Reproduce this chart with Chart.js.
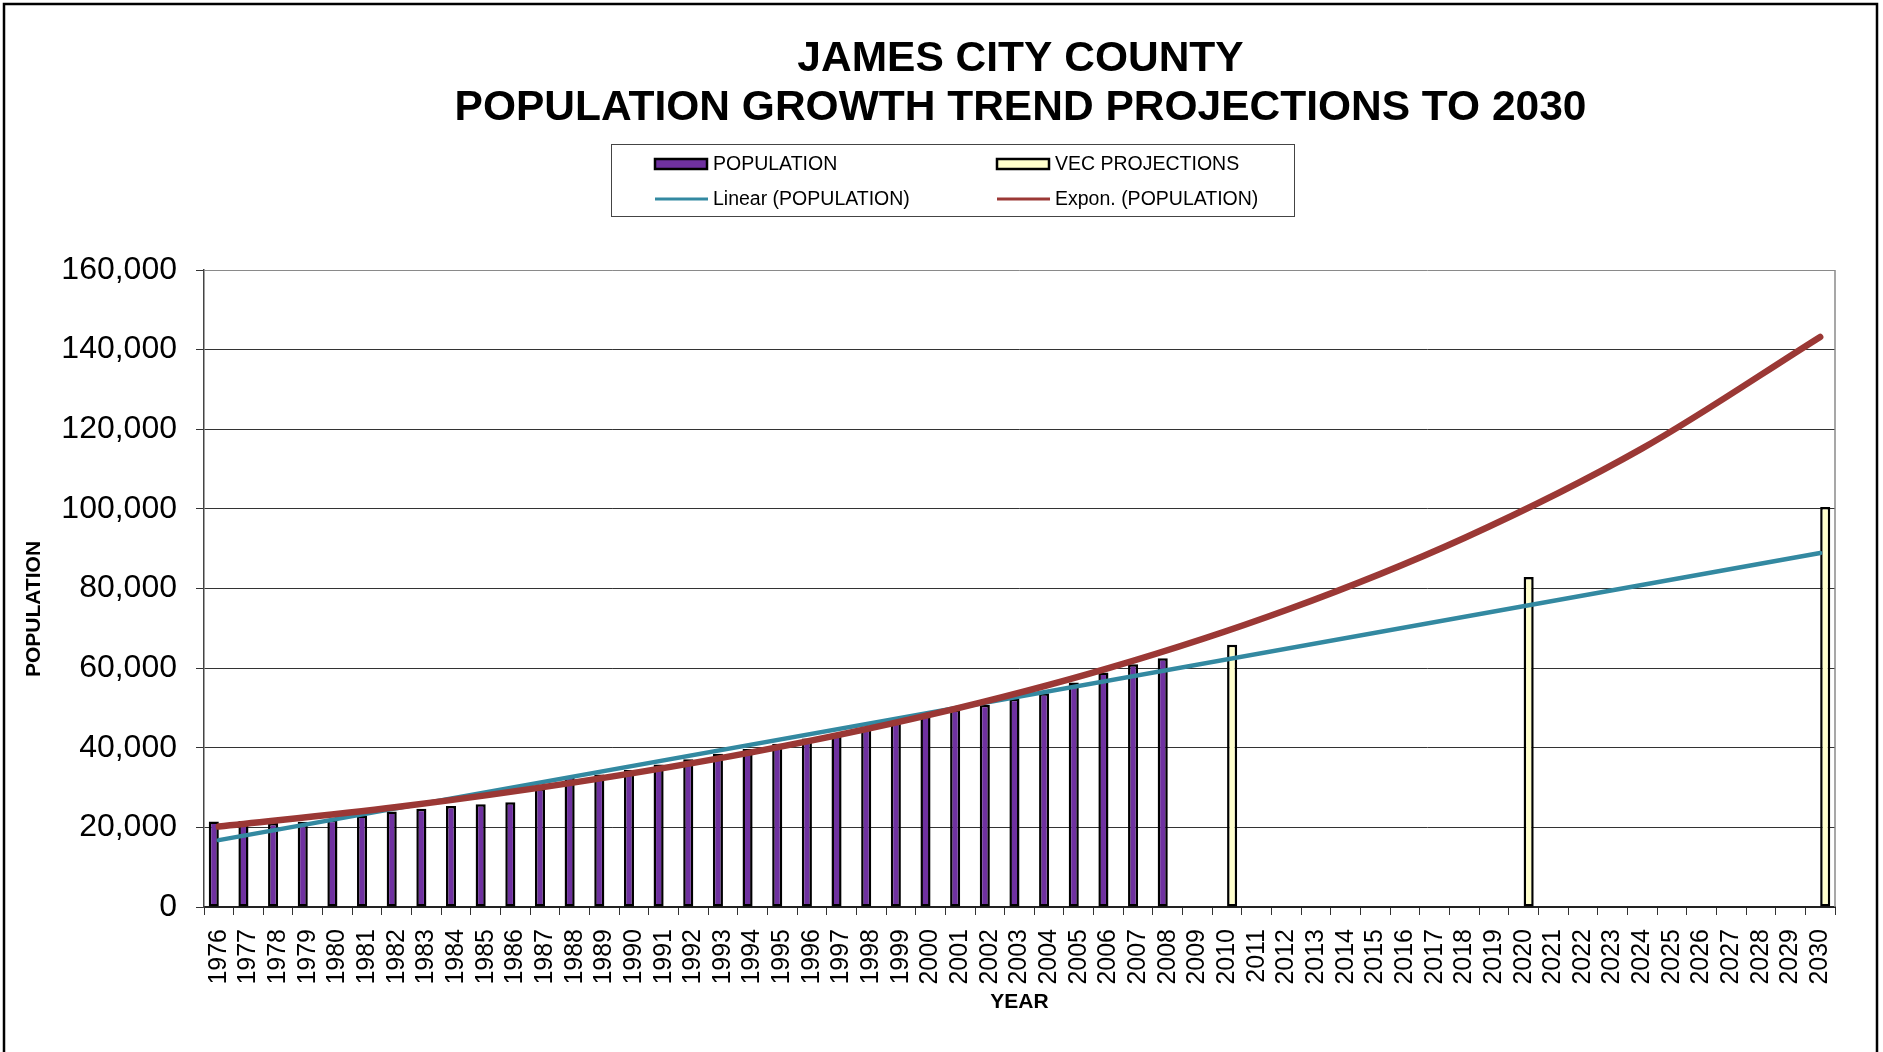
<!DOCTYPE html>
<html>
<head>
<meta charset="utf-8">
<title>James City County Population</title>
<script src="https://cdn.jsdelivr.net/npm/chart.js@4.4.1/dist/chart.umd.min.js"></script>
<style>
  html, body { margin: 0; padding: 0; background: #fff; }
  #wrap { width: 1883px; height: 1052px; }
</style>
</head>
<body>
<div id="wrap"><canvas id="popChart" width="1883" height="1052"></canvas></div>
<script>
// Categories (years on the x axis)
const years = [];
for (let y = 1976; y <= 2030; y++) years.push(String(y));

// Recorded population, 1976 - 2008
const popYears = ['1976','1977','1978','1979','1980','1981','1982','1983','1984','1985','1986',
  '1987','1988','1989','1990','1991','1992','1993','1994','1995','1996','1997',
  '1998','1999','2000','2001','2002','2003','2004','2005','2006','2007','2008'];
const popValues = [21500, 21600, 21100, 21400, 21900, 23000, 24000, 24700, 25400, 25800, 26300,
  29800, 32900, 33300, 34400, 35800, 37100, 38500, 39700, 41000, 42300, 43600,
  45100, 47000, 48300, 49600, 50800, 52300, 53700, 56400, 58900, 61000, 62500];

// VEC projections
const vecYears = ['2010', '2020', '2030'];
const vecValues = [65900, 82900, 100500];

// Trend lines
const linYears = ['1976', '2030'];
const linValues = [16800, 88900];
const expYears = ['1976', '1982', '1988', '1994', '2000', '2006', '2012', '2018', '2024', '2030'];
const expValues = [20200, 25100, 31300, 38900, 48300, 60000, 74600, 92700, 115200, 143200];

const yTicks = [0, 20000, 40000, 60000, 80000, 100000, 120000, 140000, 160000];

const PURPLE = '#6f31a0';
const YELLOW = '#ffffcc';
const TEAL = '#3389a1';
const RED = '#9b3835';
const FONT = '"Liberation Sans", Arial, sans-serif';

function fillYears(keys, vals) {
  return years.map(y => {
    const i = keys.indexOf(y);
    return i >= 0 ? vals[i] : null;
  });
}
function points(keys, vals) {
  return keys.map((k, i) => ({ x: k, y: vals[i] }));
}

// Title, legend, frame and y axis title
const decorations = {
  id: 'decorations',
  beforeDraw(chart) {
    const c = chart.ctx;
    c.save();
    c.fillStyle = '#fff';
    c.fillRect(0, 0, chart.width, chart.height);
    c.restore();
  },
  afterDraw(chart) {
    const c = chart.ctx;
    const area = chart.chartArea;
    const cx = (area.left + area.right) / 2 + 1;
    c.save();

    // outer frame (bottom edge is cut off)
    c.strokeStyle = '#000';
    c.lineWidth = 2.5;
    c.beginPath();
    c.moveTo(4, 1052);
    c.lineTo(4, 4);
    c.lineTo(1877, 4);
    c.lineTo(1877, 1052);
    c.stroke();

    // right edge of the plot
    c.strokeStyle = '#8a8a8a';
    c.lineWidth = 1.5;
    c.beginPath();
    c.moveTo(area.right, area.top);
    c.lineTo(area.right, area.bottom);
    c.stroke();

    // title
    c.fillStyle = '#000';
    c.textAlign = 'center';
    c.textBaseline = 'middle';
    c.font = 'bold 42.5px ' + FONT;
    c.fillText('JAMES CITY COUNTY', cx, 59);
    c.fillText('POPULATION GROWTH TREND PROJECTIONS TO 2030', cx, 108);

    // legend box
    c.strokeStyle = '#444';
    c.lineWidth = 1;
    c.strokeRect(611.5, 144.5, 683, 72);
    c.font = '19.5px ' + FONT;
    c.textAlign = 'left';
    const items = [
      { kind: 'box', fill: PURPLE, text: 'POPULATION', x: 655, y: 164 },
      { kind: 'box', fill: YELLOW, text: 'VEC PROJECTIONS', x: 997, y: 164 },
      { kind: 'line', color: TEAL, text: 'Linear (POPULATION)', x: 655, y: 199 },
      { kind: 'line', color: RED, text: 'Expon. (POPULATION)', x: 997, y: 199 }
    ];
    items.forEach(it => {
      if (it.kind === 'box') {
        c.fillStyle = it.fill;
        c.fillRect(it.x, it.y - 5, 52, 10);
        c.strokeStyle = '#000';
        c.lineWidth = 2.5;
        c.strokeRect(it.x, it.y - 5, 52, 10);
      } else {
        c.strokeStyle = it.color;
        c.lineWidth = 3;
        c.beginPath();
        c.moveTo(it.x, it.y);
        c.lineTo(it.x + 53, it.y);
        c.stroke();
      }
      c.fillStyle = '#000';
      c.fillText(it.text, it.x + 58, it.y + 1);
    });

    // y axis title
    c.translate(34, 609);
    c.rotate(-Math.PI / 2);
    c.textAlign = 'center';
    c.font = 'bold 21px ' + FONT;
    c.fillText('POPULATION', 0, 0);
    c.restore();
  }
};

const ctx = document.getElementById('popChart').getContext('2d');
const popChart = new Chart(ctx, {
  type: 'bar',
  data: {
    labels: years,
    datasets: [
      {
        type: 'line',
        label: 'Expon. (POPULATION)',
        data: points(expYears, expValues),
        borderColor: RED,
        borderWidth: 6.5,
        borderCapStyle: 'round',
        pointRadius: 0,
        cubicInterpolationMode: 'monotone',
        fill: false,
        order: 0
      },
      {
        type: 'line',
        label: 'Linear (POPULATION)',
        data: points(linYears, linValues),
        borderColor: TEAL,
        borderWidth: 4.5,
        borderCapStyle: 'round',
        pointRadius: 0,
        fill: false,
        order: 1
      },
      {
        label: 'POPULATION',
        data: fillYears(popYears, popValues),
        backgroundColor: PURPLE,
        borderColor: '#000',
        borderWidth: 2.5,
        borderSkipped: false,
        categoryPercentage: 0.68,
        barPercentage: 1,
        order: 2
      },
      {
        label: 'VEC PROJECTIONS',
        data: fillYears(vecYears, vecValues),
        backgroundColor: YELLOW,
        borderColor: '#000',
        borderWidth: 2.5,
        borderSkipped: false,
        categoryPercentage: 0.68,
        barPercentage: 1,
        order: 2
      }
    ]
  },
  options: {
    responsive: false,
    devicePixelRatio: 1,
    animation: false,
    events: [],
    layout: { padding: { left: 0, right: 48, top: 270, bottom: 0 } },
    plugins: {
      legend: { display: false },
      title: { display: false },
      tooltip: { enabled: false }
    },
    scales: {
      x: {
        afterFit: (s) => { s.height = 145; },
        grid: {
          offset: true,
          drawOnChartArea: false,
          drawTicks: true,
          tickLength: 8,
          color: '#333'
        },
        border: { color: '#222', width: 2 },
        ticks: {
          autoSkip: false,
          minRotation: 90,
          maxRotation: 90,
          padding: 14,
          color: '#000',
          font: { family: FONT, size: 25 }
        },
        title: {
          display: true,
          text: 'YEAR',
          color: '#000',
          font: { family: FONT, size: 21, weight: 'bold' },
          padding: { top: 0, bottom: 37 }
        }
      },
      y: {
        afterFit: (s) => { s.width = 204; },
        min: yTicks[0],
        max: yTicks[yTicks.length - 1],
        afterBuildTicks: (s) => { s.ticks = yTicks.map(v => ({ value: v })); },
        grid: {
          color: (c) => (c.tick && c.tick.value === 160000) ? '#8a8a8a' : '#333',
          tickColor: '#333',
          tickLength: 8,
          lineWidth: 1
        },
        border: { color: '#444', width: 1.5 },
        ticks: {
          padding: 19,
          color: '#000',
          font: { family: FONT, size: 32 },
          callback: (v) => Number(v).toLocaleString('en-US')
        }
      }
    }
  },
  plugins: [decorations]
});
</script>
</body>
</html>
